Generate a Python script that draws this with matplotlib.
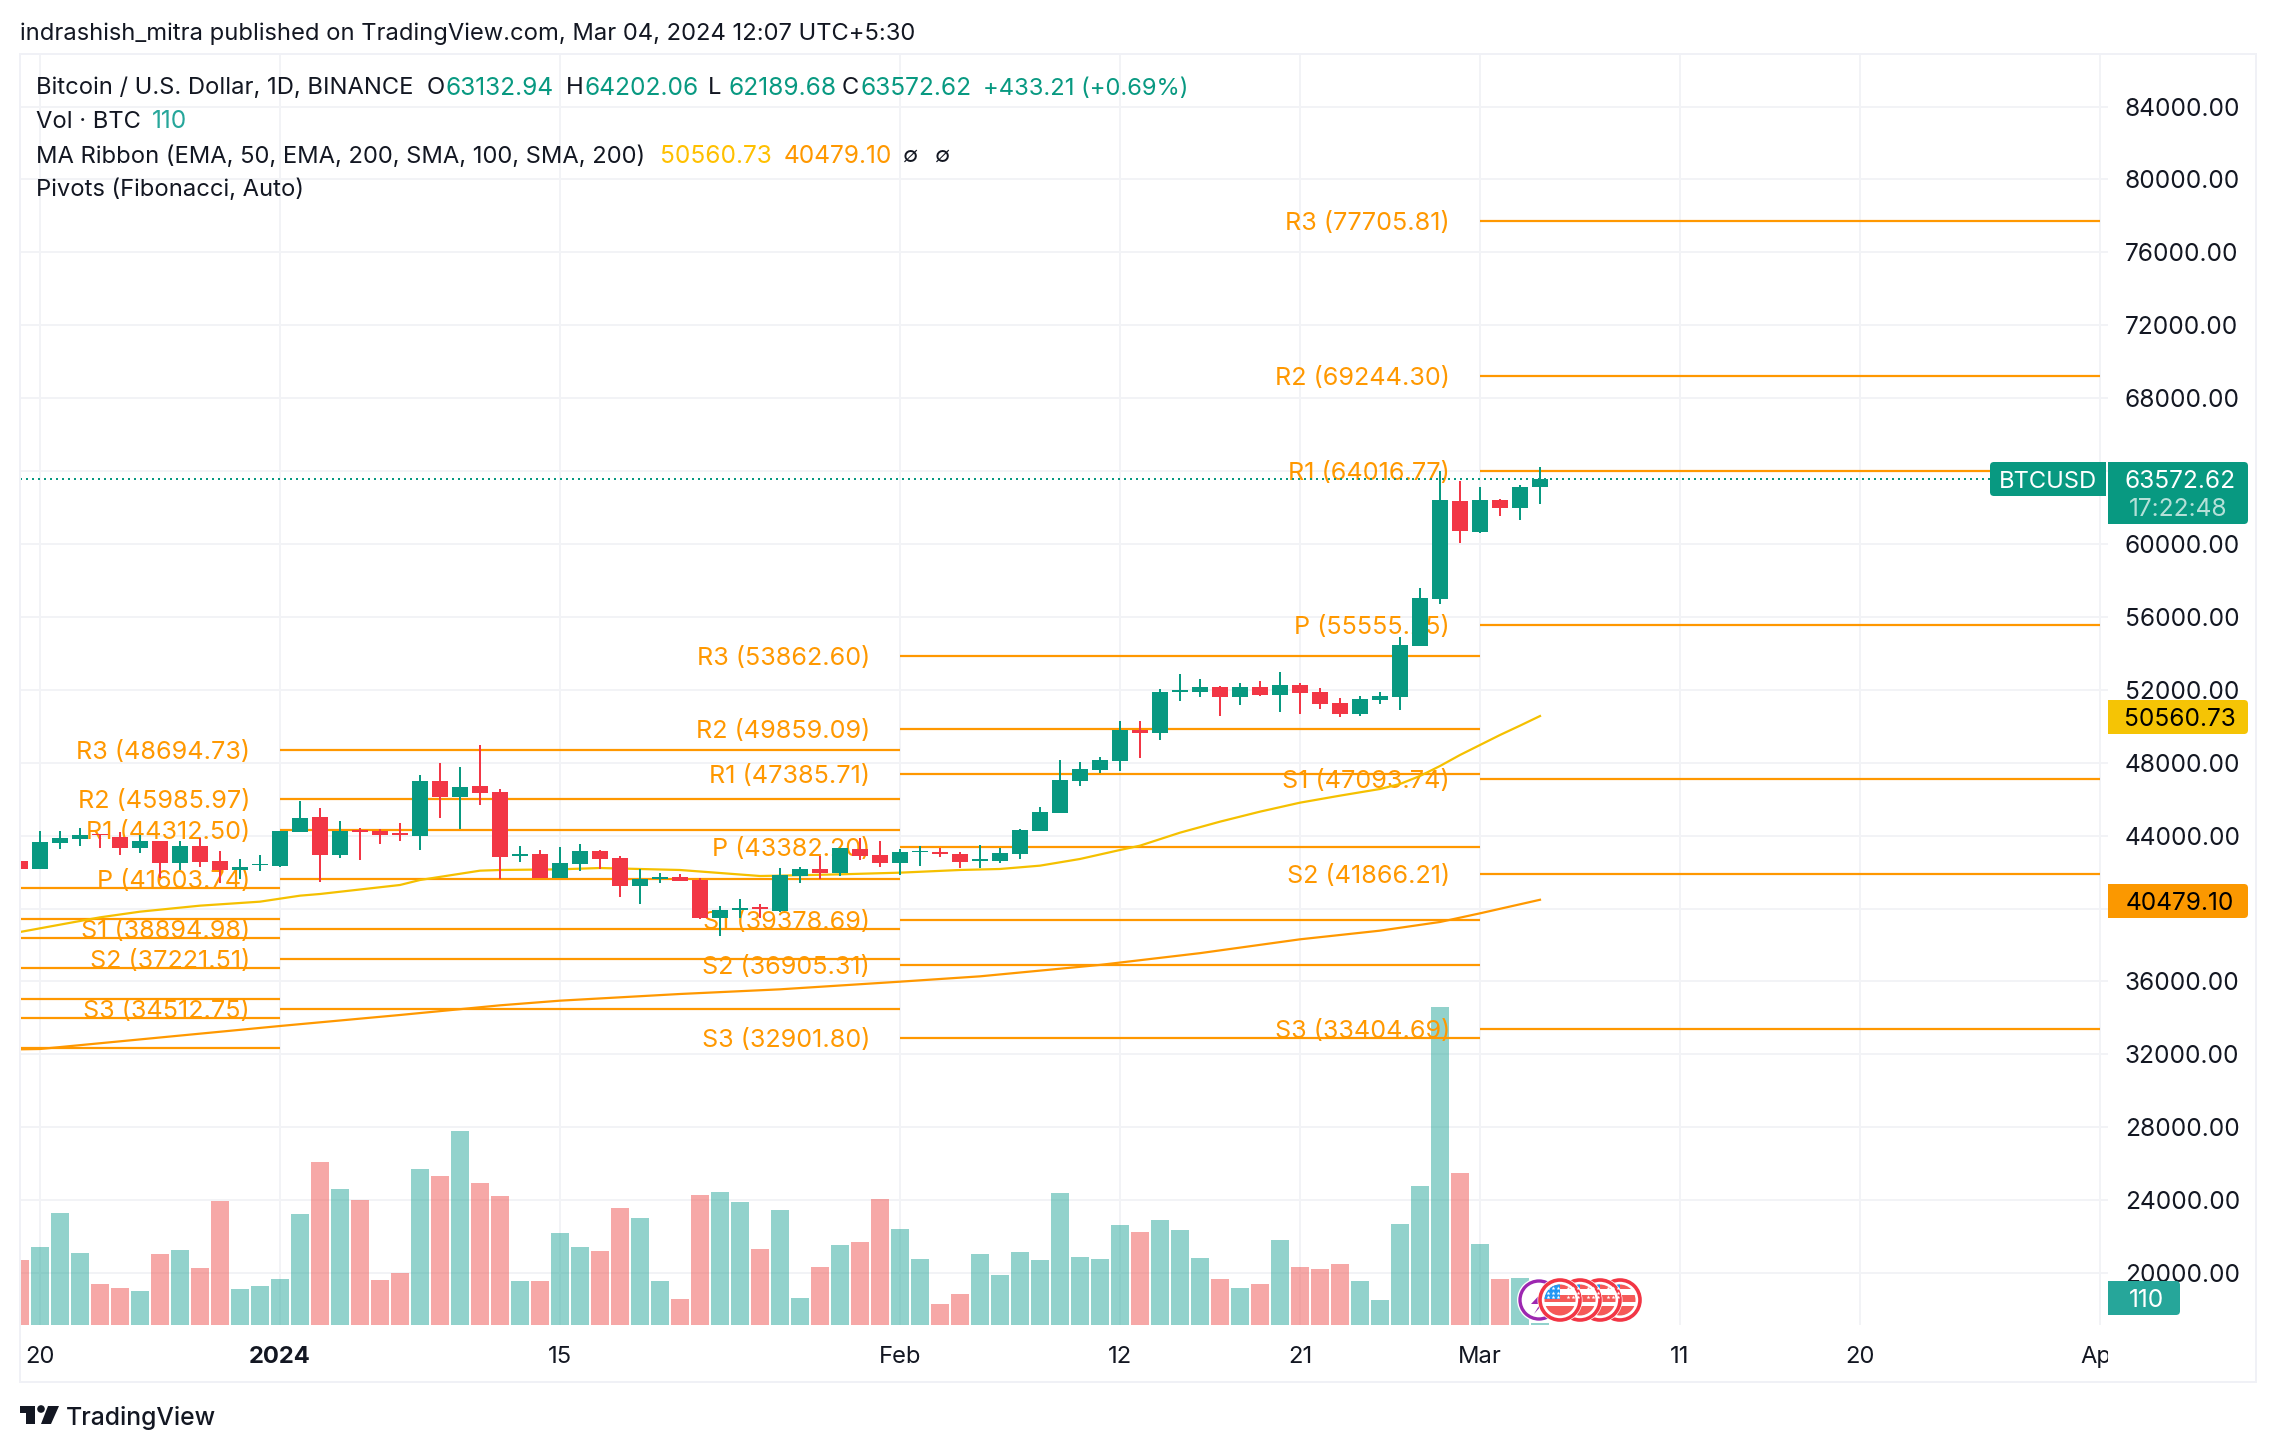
import matplotlib
matplotlib.use("Agg")
import matplotlib.pyplot as plt
from matplotlib.patches import Rectangle, FancyBboxPatch, Circle, Polygon
from matplotlib.transforms import Bbox, TransformedBbox, IdentityTransform

# ---------- data (day 0 = 20 Dec 2023, one entry per day from 19 Dec 2023 to 4 Mar 2024) ----------
first_day = -1
opens = [42606,42167,43594,43814,44088,43923,43320,43704,42497,43429,42606,42131,42369,
         42332,44198,45021,42936,44307,44252,44143,43978,46996,46118,46722,46392,42899,
         42990,41674,42442,43155,42771,41235,41637,41729,41564,39479,39918,40064,39863,
         41783,42167,41948,43265,42936,
         42497,43082,43100,42990,42625,42607,42991,44253,45240,46996,47600,48094,49795,
         49630,51898,51880,52154,51605,52154,51715,52264,51880,51276,50673,51441,51605,
         54403,56982,62360,60659,62415,61975,63132.94]
highs = [43393,44252,44252,44417,44088,44198,44033,43704,43704,43868,43155,42716,42936,
         44252,45899,45514,44801,44417,44362,44691,47325,47984,47764,48971,46557,43429,
         43210,43375,43539,43210,42881,42167,41948,41893,41674,40137,40521,40247,42222,
         42277,42881,43320,43868,43704,
         43265,43429,43320,43100,43485,43320,44363,45570,48149,48039,48313,50289,50289,
         52044,52867,52593,52209,52374,52483,52977,52374,52099,51550,51660,51880,54897,
         57586,64006,63457,63128,62469,63238,64202.06]
lows = [41802,42167,43265,43429,43320,42936,43045,41674,42113,42277,41399,41619,42058,
        42277,44198,41454,42771,42661,43539,43704,43210,44966,44362,45679,41619,42551,
        41674,41674,42058,42167,40631,40247,41399,41509,39424,38491,39479,39479,39808,
        41399,41619,41783,42661,42277,
        41838,42332,42826,42222,42222,42497,42717,44253,45240,46722,47435,47545,48258,
        49246,51386,51605,50563,51166,51660,50782,50673,50947,50508,50563,51221,50892,
        54403,56708,60055,60604,61537,61317,62189.68]
closes = [42167,43649,43868,44033,44015,43320,43704,42497,43429,42551,42113,42259,42442,
          44252,44966,42936,44252,44198,44033,44033,46996,46118,46667,46338,42826,42990,
          41674,42497,43155,42716,41235,41619,41729,41509,39479,39918,40009,39973,41838,
          42167,41948,43320,42881,42497,
          43100,43155,42972,42551,42717,43046,44308,45295,47051,47655,48149,49795,49630,
          51880,51990,52154,51605,52154,51715,52264,51825,51221,50673,51496,51660,54458,
          57037,62415,60713,62415,61975,63128,63572.62]
volumes = [19.5,23.4,33.6,21.6,12.3,11.1,10.2,21.3,22.5,17.1,37.2,10.8,11.7,13.8,33.3,48.9,
           40.8,37.5,13.5,15.6,46.8,44.7,58.2,42.6,38.7,13.2,13.2,27.6,23.4,22.2,35.1,32.1,
           13.2,7.8,39.0,39.9,36.9,22.8,34.5,8.1,17.4,24.0,24.9,37.8,28.8,19.8,6.3,9.3,21.3,
           15.0,21.9,19.5,39.6,20.4,19.8,30.0,27.9,31.5,28.5,20.1,13.8,11.1,12.3,25.5,17.4,
           16.8,18.3,13.2,7.5,30.3,41.7,95.4,45.6,24.3,13.8,14.1,0.6]

pivot_names = ["R3", "R2", "R1", "P", "S1", "S2", "S3"]
pivots_dec = [41107, 39434, 38400, 36726, 35052, 34018, 32345]
pivots_jan = [48694.73, 45985.97, 44312.50, 41603.74, 38894.98, 37221.51, 34512.75]
pivots_feb = [53862.60, 49859.09, 47385.71, 43382.20, 39378.69, 36905.31, 32901.80]
pivots_mar = [77705.81, 69244.30, 64016.77, 55555.25, 47093.74, 41866.21, 33404.69]

ema50_days = [-1,3,5,8,11,12,13,14,18,19,22,23,26,28,32,36,37,40,43,46,48,50,52,54,55,57,59,61,
              63,65,67,68,69,70,71,72,73,74,75]
ema50_vals = [38711,39515,39826,40156,40375,40540,40704,40796,41290,41564,42076,42113,42149,
              42222,42113,41783,41802,41875,41966,42113,42168,42351,42717,43210,43448,44161,
              44765,45314,45807,46192,46557,46832,47271,47819,48423,48972,49520,50033,50560.73]
ema200_days = [-1,0,12,18,23,26,32,37,43,47,53,58,63,67,70,72,75]
ema200_vals = [32273,32291,33553,34157,34687,34943,35309,35565,35985,36278,36905,37550,38309,
               38784,39260,39735,40479.10]

price_ticks = list(range(20000, 84001, 4000))
date_ticks = [0, 12, 26, 43, 54, 63, 72, 82, 91, 103]
date_labels = ["20", "2024", "15", "Feb", "12", "21", "Mar", "11", "20", "Apr"]

TEAL = "#089981"
RED = "#f23645"
ORANGE = "#ff9800"
GRID = "#f2f3f6"
INK = "#131722"
FONT = ["Inter", "DejaVu Sans"]
FS = 17.1     # words
FN = 17.6     # price figures
FP = 18.1     # pivot labels

plt.rcParams["font.family"] = FONT
W, H = 2276, 1452
fig = plt.figure(figsize=(W / 100, H / 100), dpi=100, facecolor="white")
ax = fig.add_axes([20 / W, (H - 1325) / H, 2088 / W, 1271 / H])
ax.set_xlim(-1, 103.4)
ax.set_ylim(17146.8, 86886.1)
for s in ax.spines.values():
    s.set_visible(False)
ax.set_axisbelow(True)
ax.grid(True, color=GRID, lw=1.44)

days = list(range(first_day, first_day + len(opens)))

# volume on its own scale, same frame
vax = ax.twinx()
vax.set_ylim(0, 381.3)
vax.axis("off")
vax.patch.set_visible(False)
vcol = ["#26a69a" if c >= o else "#ef5350" for o, c in zip(opens, closes)]
vax.bar(days, volumes, width=0.9, color=vcol, alpha=0.5, linewidth=0)

ax.yaxis.tick_right()
ax.set_yticks(price_ticks)
ax.set_yticklabels([f"{p:.2f}" for p in price_ticks], fontsize=FN, color=INK)
ax.tick_params(axis="y", length=0, pad=12, left=False, right=False, labelleft=False, labelright=True)
ax.set_xticks(date_ticks)
ax.set_xticklabels(date_labels, fontsize=FS, color=INK)
ax.tick_params(axis="x", length=0, pad=15)
clip = TransformedBbox(Bbox([[0, 0], [2108, H]]), IdentityTransform())
for lab in ax.get_xticklabels():
    if lab.get_text() == "2024":
        lab.set_fontweight("bold")
    if lab.get_text() == "Apr":
        lab.set_clip_on(True)
        lab.set_clip_box(clip)

# price artists live on a transparent axes above the volume
pax = fig.add_axes(ax.get_position(), sharex=ax)
pax.set_ylim(ax.get_ylim())
pax.axis("off")
pax.patch.set_visible(False)

segments = [(-22, 12, pivots_dec, None), (12, 43, pivots_jan, pivots_jan),
            (43, 72, pivots_feb, pivots_feb), (72, 103, pivots_mar, pivots_mar)]
for start, end, lv, labelled in segments:
    pax.hlines(lv, start, end, color=ORANGE, lw=1.6, zorder=2)
    if labelled:
        for name, v in zip(pivot_names, labelled):
            pax.text(start - 1.5, v, f"{name} ({v:.2f})", ha="right", va="center_baseline",
                     color=ORANGE, fontsize=FP, zorder=2.5, clip_on=True)

pax.plot(ema50_days, ema50_vals, color="#f5c000", lw=1.6, zorder=3)
pax.plot(ema200_days, ema200_vals, color=ORANGE, lw=1.6, zorder=3)
pax.axhline(closes[-1], color=TEAL, lw=1.44, ls=(0, (1, 2)), zorder=3)

ccol = [TEAL if c >= o else RED for o, c in zip(opens, closes)]
pax.vlines(days, lows, highs, color=ccol, lw=1.44, zorder=4)
pax.bar(days, [abs(c - o) for o, c in zip(opens, closes)],
        bottom=[min(o, c) for o, c in zip(opens, closes)],
        width=0.8, color=ccol, linewidth=0, zorder=5)

# ---------- overlay in reference pixels: badges, legend, frame, logo, event icons ----------
ov = fig.add_axes([0, 0, 1, 1])
ov.set_xlim(0, W)
ov.set_ylim(H, 0)
ov.axis("off")
ov.patch.set_visible(False)


def badge(x0, y0, x1, y1, color, square_left=True, square_right=False):
    ov.add_patch(FancyBboxPatch((x0 + 4, y0 + 4), x1 - x0 - 8, y1 - y0 - 8,
                                boxstyle="round,pad=4,rounding_size=4", fc=color, ec="none"))
    if square_left:
        ov.add_patch(Rectangle((x0, y0), (x1 - x0) / 2, y1 - y0, fc=color, ec="none"))
    if square_right:
        ov.add_patch(Rectangle(((x0 + x1) / 2, y0), (x1 - x0) / 2, y1 - y0, fc=color, ec="none"))


def t(x, y, s, color=INK, **kw):
    kw.setdefault("fontsize", FS)
    kw.setdefault("va", "center_baseline")
    ov.text(x, y, s, color=color, **kw)


ov.add_patch(Rectangle((20, 54), 2236, 1328, fc="none", ec="#f0f1f6", lw=1.44))

badge(1990, 462, 2106, 496, TEAL, square_left=False, square_right=True)
t(2048, 479, "BTCUSD", "white", ha="center")
badge(2108, 462, 2248, 524, TEAL)
t(2180, 479, f"{closes[-1]:.2f}", "white", ha="center", fontsize=FN)
t(2178, 507, "17:22:48", "#b5e0d8", ha="center", fontsize=FN)
badge(2108, 700, 2248, 734, "#f5c405")
t(2180, 717, f"{ema50_vals[-1]:.2f}", "black", ha="center", fontsize=FN)
badge(2108, 884, 2248, 918, "#fb9800")
t(2180, 901, f"{ema200_vals[-1]:.2f}", "black", ha="center", fontsize=FN)
badge(2108, 1281, 2180, 1315, "#26a69a")
t(2147, 1298, "110", "white", ha="center", fontsize=FN)

t(20, 31, "indrashish_mitra published on TradingView.com, Mar 04, 2024 12:07 UTC+5:30", fontsize=FS)
t(36, 86, "Bitcoin / U.S. Dollar, 1D, BINANCE", fontsize=FS)
for x, s, c, f in [(427, "O", INK, FS), (446, "63132.94", TEAL, FN), (566, "H", INK, FS),
                   (585, "64202.06", TEAL, FN), (708, "L", INK, FS), (729, "62189.68", TEAL, FN),
                   (842, "C", INK, FS), (861, "63572.62", TEAL, FN),
                   (983, "+433.21 (+0.69%)", TEAL, FS)]:
    t(x, 86, s, c, fontsize=f)
t(36, 119, "Vol · BTC")
t(152, 119, "110", "#26a69a", fontsize=FN)
t(36, 154, "MA Ribbon (EMA, 50, EMA, 200, SMA, 100, SMA, 200)", fontsize=FS)
t(660, 154, "50560.73", "#ffc000", fontsize=FN)
t(784, 154, "40479.10", ORANGE, fontsize=FN)
t(903, 154, "∅", fontsize=16)
t(935, 154, "∅", fontsize=16)
t(36, 187, "Pivots (Fibonacci, Auto)", fontsize=FS)

# logo
ov.add_patch(Polygon([(20, 1406), (35, 1406), (35, 1424), (26, 1424), (26, 1413), (20, 1413)],
                     fc=INK, ec="none"))
ov.add_patch(Circle((41, 1409), 3.8, fc=INK, ec="none"))
ov.add_patch(Polygon([(48, 1406), (59, 1406), (51, 1424), (41, 1424)], fc=INK, ec="none"))
t(66, 1416, "TradingView", fontsize=17.8, fontweight="medium")

# event icons
ov.add_patch(Circle((1539, 1300), 22, fc="white", ec="none"))
ov.add_patch(Circle((1539, 1300), 19, fc="white", ec="#9c27b0", lw=2.4))
ov.add_patch(Polygon([(1547, 1287), (1531, 1304), (1540, 1304), (1534, 1314), (1549, 1297), (1541, 1297)],
                     fc="#9c27b0", ec="none"))
for cx in [1620, 1600, 1580, 1560]:
    ov.add_patch(Circle((cx, 1300), 22.5, fc="white", ec="none"))
    ring = Circle((cx, 1300), 20, fc="white", ec=RED, lw=2.6)
    ov.add_patch(ring)
    inner = Circle((cx, 1300), 15.5, transform=ov.transData)
    for y0, h in [(1284, 5), (1295, 7), (1306, 11)]:
        r = Rectangle((cx - 17, y0), 34, h, fc="#f55a58", ec="none")
        ov.add_patch(r)
        r.set_clip_path(inner)
    r = Rectangle((cx - 17, 1284), 17, 15, fc="#2196f3", ec="none")
    ov.add_patch(r)
    r.set_clip_path(inner)
    for sx in (-12, -7, -2):
        for sy in (1288, 1293, 1297):
            ov.plot(cx + sx, sy, marker="*", ms=3, color="white", mew=0)

fig.savefig("out.png", dpi=100, facecolor="white")
